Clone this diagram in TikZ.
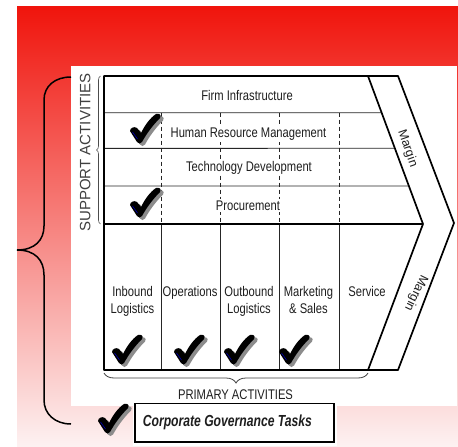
\documentclass[tikz,border=0pt]{standalone}
\usepackage{fontspec}
\setmainfont{Liberation Sans}
\newfontfamily\narrow[FakeStretch=0.8]{Liberation Sans}
\newfontfamily\narrowbold[FakeStretch=0.76]{Liberation Sans}
\usetikzlibrary{calc,decorations.pathreplacing}
\definecolor{bgtop}{RGB}{240,20,12}
\definecolor{bgbot}{RGB}{253,242,242}
\definecolor{shadowgray}{RGB}{140,140,140}
\definecolor{txt}{RGB}{30,30,30}
\tikzset{
  chevron/.style={line width=1.7pt, line join=round},
  rowline/.style={line width=0.9pt, black!85},
  colline/.style={line width=0.9pt, black!85},
  dashline/.style={line width=0.8pt, black!85, dash pattern=on 4pt off 3pt},
  rowtxt/.style={font=\narrow\fontsize{14}{17.3}\selectfont, inner xsep=3pt, inner ysep=1.5pt, fill=white, text=txt, anchor=base},
  coltxt/.style={font=\narrow\fontsize{14}{17.3}\selectfont, inner sep=0pt, text=txt, anchor=north, align=center},
  margintxt/.style={font=\fontsize{12.5}{15}\selectfont, inner sep=0pt, text=txt},
  chk/.pic={
    \begin{scope}[shift={(3,2.5)}]
      \fill[shadowgray] (1,18) .. controls (1,15) and (5,13) .. (8,15) -- (12,20)
        .. controls (16,12) and (21,5) .. (27,1) .. controls (30,0) and (33,2) .. (31,5)
        .. controls (24,12) and (18,20) .. (13,29) .. controls (12,31) and (9,31) .. (8,29) -- cycle;
    \end{scope}
    \fill[black] (1,18) .. controls (1,15) and (5,13) .. (8,15) -- (12,20)
      .. controls (16,12) and (21,5) .. (27,1) .. controls (30,0) and (33,2) .. (31,5)
      .. controls (24,12) and (18,20) .. (13,29) .. controls (12,31) and (9,31) .. (8,29) -- cycle;
    \draw[blue!70!black, line width=0.6pt] (3.5,19) -- (8.5,26);
  }
}
\begin{document}
\begin{tikzpicture}[x=1pt, y=-1pt]
\useasboundingbox (0,0) rectangle (458,447);
% background
\shade[top color=bgtop, bottom color=bgbot] (17,6) rectangle (458,447);
\fill[white] (71,66) rectangle (457,405.5);
% big brace
\draw[line width=1.5pt] (71,77) .. controls (55,77) and (44,86) .. (44,100) -- (44,226)
  .. controls (44,240) and (35,250) .. (17,250) .. controls (35,250) and (44,260) .. (44,275)
  -- (44,400) .. controls (44,414) and (55,424) .. (71,424);
% chevron coordinates
\coordinate (TL) at (104,76);
\coordinate (TR) at (398,76);
\coordinate (TIP) at (454,223);
\coordinate (BR) at (398,370);
\coordinate (BL) at (104,370);
\coordinate (ITop) at (368,76);
\coordinate (ITip) at (423,224);
\coordinate (IBot) at (368,370);
\coordinate (MidL) at (104,224);
% row lines
\coordinate (R1L) at (104,112.7);
\coordinate (R2L) at (104,148.3);
\coordinate (R3L) at (104,186);
\coordinate (R1R) at ($(ITop)!0.248!(ITip)$);
\coordinate (R2R) at ($(ITop)!0.4885!(ITip)$);
\coordinate (R3R) at ($(ITop)!0.743!(ITip)$);
\draw[rowline] (R1L) -- (R1R);
\draw[rowline] (R2L) -- (R2R);
\draw[rowline] (R3L) -- (R3R);
% dashed and column lines
\foreach \cx [count=\i] in {161,220,279,339}{
  \coordinate (D\i) at (\cx,112.7);
  \coordinate (M\i) at (\cx,224);
  \coordinate (B\i) at (\cx,370);
  \draw[dashline] (D\i) -- (M\i);
  \draw[colline] (M\i) -- (B\i);
}
\draw[chevron] (MidL) -- (ITip);
\draw[chevron] (TL) -- (TR) -- (TIP) -- (BR) -- (BL) -- cycle;
\draw[chevron] (ITop) -- (ITip) -- (IBot);
% braces
\draw[decorate, decoration={brace, amplitude=4pt}, black!70, line width=0.6pt] (100.5,224) -- (100.5,76);
\draw[decorate, decoration={brace, amplitude=10pt}, black!75, line width=0.8pt] (368,373) -- (104,373);
% texts
\node[rowtxt] (firm) at (247,100) {Firm Infrastructure};
\node[rowtxt] (hrm) at (248.5,137.5) {Human Resource Management};
\node[rowtxt] (tech) at (249,171) {Technology Development};
\node[rowtxt] (proc) at (248,210) {Procurement};
\node[font=\fontsize{15}{18}\selectfont, rotate=90, inner sep=0pt, text=txt!85] (sup) at (85.3,152.5) {SUPPORT ACTIVITIES};
\node[coltxt] (inb) at (132.5,286) {Inbound\\Logistics};
\node[coltxt] (ops) at (190,286) {Operations};
\node[coltxt] (outb) at (249,286) {Outbound\\Logistics};
\node[coltxt] (mkt) at (308.5,286) {Marketing\\\& Sales};
\node[coltxt] (svc) at (367,286) {Service};
\node[margintxt, rotate=-71] (m1) at (407.5,148.5) {Margin};
\node[margintxt, rotate=-116] (m2) at (416,293) {Margin};
\begin{scope}
  \clip (90,380) rectangle (380,398.5);
  \node[rowtxt, fill=none] (prim) at (235.5,399.5) {PRIMARY ACTIVITIES};
\end{scope}
% governance box
\fill[white] (133,403) rectangle (337,446);
\draw[line width=1.2pt] (135,403.5) rectangle (334,442);
\node[font=\narrowbold\bfseries\itshape\fontsize{16}{19}\selectfont, inner sep=0pt, anchor=base, text=txt] (gov) at (227.4,426.5) {Corporate Governance Tasks};
% checkmarks
\pic (c1) at (129,113) {chk};
\pic (c2) at (129,187) {chk};
\pic (c3) at (111,334) {chk};
\pic (c4) at (173,334) {chk};
\pic (c5) at (223,334) {chk};
\pic (c6) at (278,334) {chk};
\pic (c7) at (97,403) {chk};
\end{tikzpicture}
\end{document}
